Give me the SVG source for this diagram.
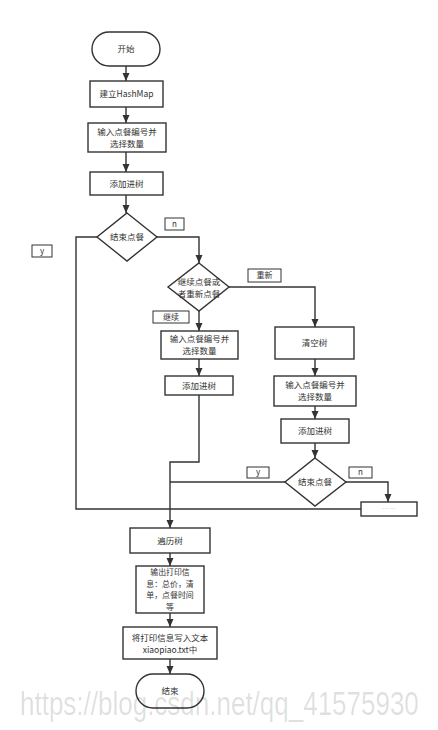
<svg xmlns="http://www.w3.org/2000/svg" width="438" height="730" viewBox="0 0 438 730">
<defs>
<marker id="arr" markerUnits="userSpaceOnUse" markerWidth="8" markerHeight="8" viewBox="0 0 8 8" refX="8" refY="4" orient="auto">
<path d="M0,0.5 L8,4 L0,7.5 Z" fill="#333"/>
</marker>
<style>
.n{fill:#fff;stroke:#333;stroke-width:1.4}
.lb{fill:#fff;stroke:#333;stroke-width:1}
.t{font-family:"Noto Sans CJK SC","Noto Sans",sans-serif;font-size:8.5px;fill:#333;text-anchor:middle}
.o{font-family:"Noto Sans CJK SC","Noto Sans",sans-serif;font-size:7.9px;fill:#333;text-anchor:middle}
.s{font-family:"Noto Sans CJK SC","Noto Sans",sans-serif;font-size:8px;fill:#333;text-anchor:middle}
.c{fill:none;stroke:#333;stroke-width:1.4}
.a{fill:none;stroke:#333;stroke-width:1.4;marker-end:url(#arr)}
</style>
</defs>
<rect width="438" height="730" fill="#fff"/>
<g id="connectors">
<line class="a" x1="126" y1="66" x2="126" y2="81"/>
<line class="a" x1="126" y1="107" x2="126" y2="123"/>
<line class="a" x1="126" y1="152" x2="126" y2="172"/>
<line class="a" x1="126" y1="195" x2="126" y2="213"/>
<polyline class="a" points="157,237 199,237 199,263"/>
<polyline class="a" points="229,287 315,287 315,327"/>
<line class="a" x1="199" y1="311" x2="199" y2="331"/>
<line class="a" x1="199" y1="359" x2="199" y2="376"/>
<polyline class="a" points="199,395 199,462 170,462 170,528"/>
<line class="a" x1="315" y1="359" x2="315" y2="376"/>
<line class="a" x1="315" y1="406" x2="315" y2="419"/>
<line class="a" x1="315" y1="443" x2="315" y2="458"/>
<line class="c" x1="285" y1="482" x2="170" y2="482"/>
<polyline class="a" points="346,482 388,482 388,502"/>
<polyline class="c" points="97,237 76,237 76,509 361,509"/>
<line class="a" x1="170" y1="553" x2="170" y2="566"/>
<line class="a" x1="170" y1="613" x2="170" y2="627"/>
<line class="a" x1="170" y1="659" x2="170" y2="674"/>
</g>
<g id="start"><rect class="n" x="92" y="32" width="68" height="34" rx="17"/><text class="t" x="126" y="52.1">开始</text></g>
<g id="hashmap"><rect class="n" x="90" y="81" width="73" height="26"/><text class="t" x="126.5" y="97.1">建立HashMap</text></g>
<g id="input1"><rect class="n" x="88" y="123" width="78" height="29"/><text class="t" x="127" y="134.6">输入点餐编号并</text><text class="t" x="127" y="146.9">选择数量</text></g>
<g id="add1"><rect class="n" x="90" y="172" width="73" height="23"/><text class="t" x="126.5" y="186.6">添加进树</text></g>
<g id="end1"><polygon class="n" points="127,213 157,237 127,261 97,237"/><text class="t" x="127" y="240.1">结束点餐</text></g>
<g id="lbl-n1"><rect class="lb" x="165" y="218" width="19" height="12"/><text class="s" x="174.5" y="226.9">n</text></g>
<g id="lbl-y1"><rect class="lb" x="32" y="245" width="20" height="12"/><text class="s" x="42" y="253.9">y</text></g>
<g id="choice"><polygon class="n" points="199,263 229,287 199,311 168,287"/><text class="t" x="199" y="285.1">继续点餐或</text><text class="t" x="199" y="297.1">者重新点餐</text></g>
<g id="lbl-renew"><rect class="lb" x="248" y="269" width="33" height="13"/><text class="s" x="264.5" y="278.4">重新</text></g>
<g id="lbl-cont"><rect class="lb" x="153" y="311" width="36" height="12"/><text class="s" x="171" y="319.9">继续</text></g>
<g id="input2"><rect class="n" x="161" y="331" width="77" height="28"/><text class="t" x="199.5" y="342">输入点餐编号并</text><text class="t" x="199.5" y="354.3">选择数量</text></g>
<g id="add2"><rect class="n" x="165" y="376" width="68" height="19"/><text class="t" x="199" y="388.6">添加进树</text></g>
<g id="clear"><rect class="n" x="275" y="327" width="79" height="32"/><text class="t" x="314.5" y="346.1">清空树</text></g>
<g id="input3"><rect class="n" x="274" y="376" width="82" height="30"/><text class="t" x="315" y="388">输入点餐编号并</text><text class="t" x="315" y="400.3">选择数量</text></g>
<g id="add3"><rect class="n" x="281" y="419" width="68" height="24"/><text class="t" x="315" y="434.1">添加进树</text></g>
<g id="end2"><polygon class="n" points="315,458 346,482 315,506 285,482"/><text class="t" x="315" y="485.1">结束点餐</text></g>
<g id="lbl-y2"><rect class="lb" x="247" y="467" width="22" height="11"/><text class="s" x="258" y="475.4">y</text></g>
<g id="lbl-n2"><rect class="lb" x="349" y="467" width="23" height="11"/><text class="s" x="360.5" y="475.4">n</text></g>
<g id="dots"><rect class="n" x="361" y="502" width="56" height="14"/><text class="s" x="389" y="511" style="fill:#aaa;font-size:6px">… …</text></g>
<g id="traverse"><rect class="n" x="130" y="528" width="80" height="25"/><text class="t" x="170" y="543.6">遍历树</text></g>
<g id="output"><rect class="n" x="136" y="566" width="68" height="47"/><text class="o" x="170" y="575.4">输出打印信</text><text class="o" x="170" y="586.9">息：总价，清</text><text class="o" x="170" y="598.4">单，点餐时间</text><text class="o" x="170" y="609.9">等</text></g>
<g id="write"><rect class="n" x="123" y="627" width="94" height="32"/><text class="t" x="170" y="640.6">将打印信息写入文本</text><text class="t" x="170" y="652.9">xiaopiao.txt中</text></g>
<g id="end"><rect class="n" x="136" y="674" width="68" height="34" rx="17"/><text class="t" x="170" y="694.1">结束</text></g>
<text transform="translate(20,715) scale(1,1.3)" x="0" y="0" style="font-family:'Liberation Sans',Arial,sans-serif;font-size:26px;fill:#000;fill-opacity:0.13">https://blog.csdn.net/qq_41575930</text>
</svg>
